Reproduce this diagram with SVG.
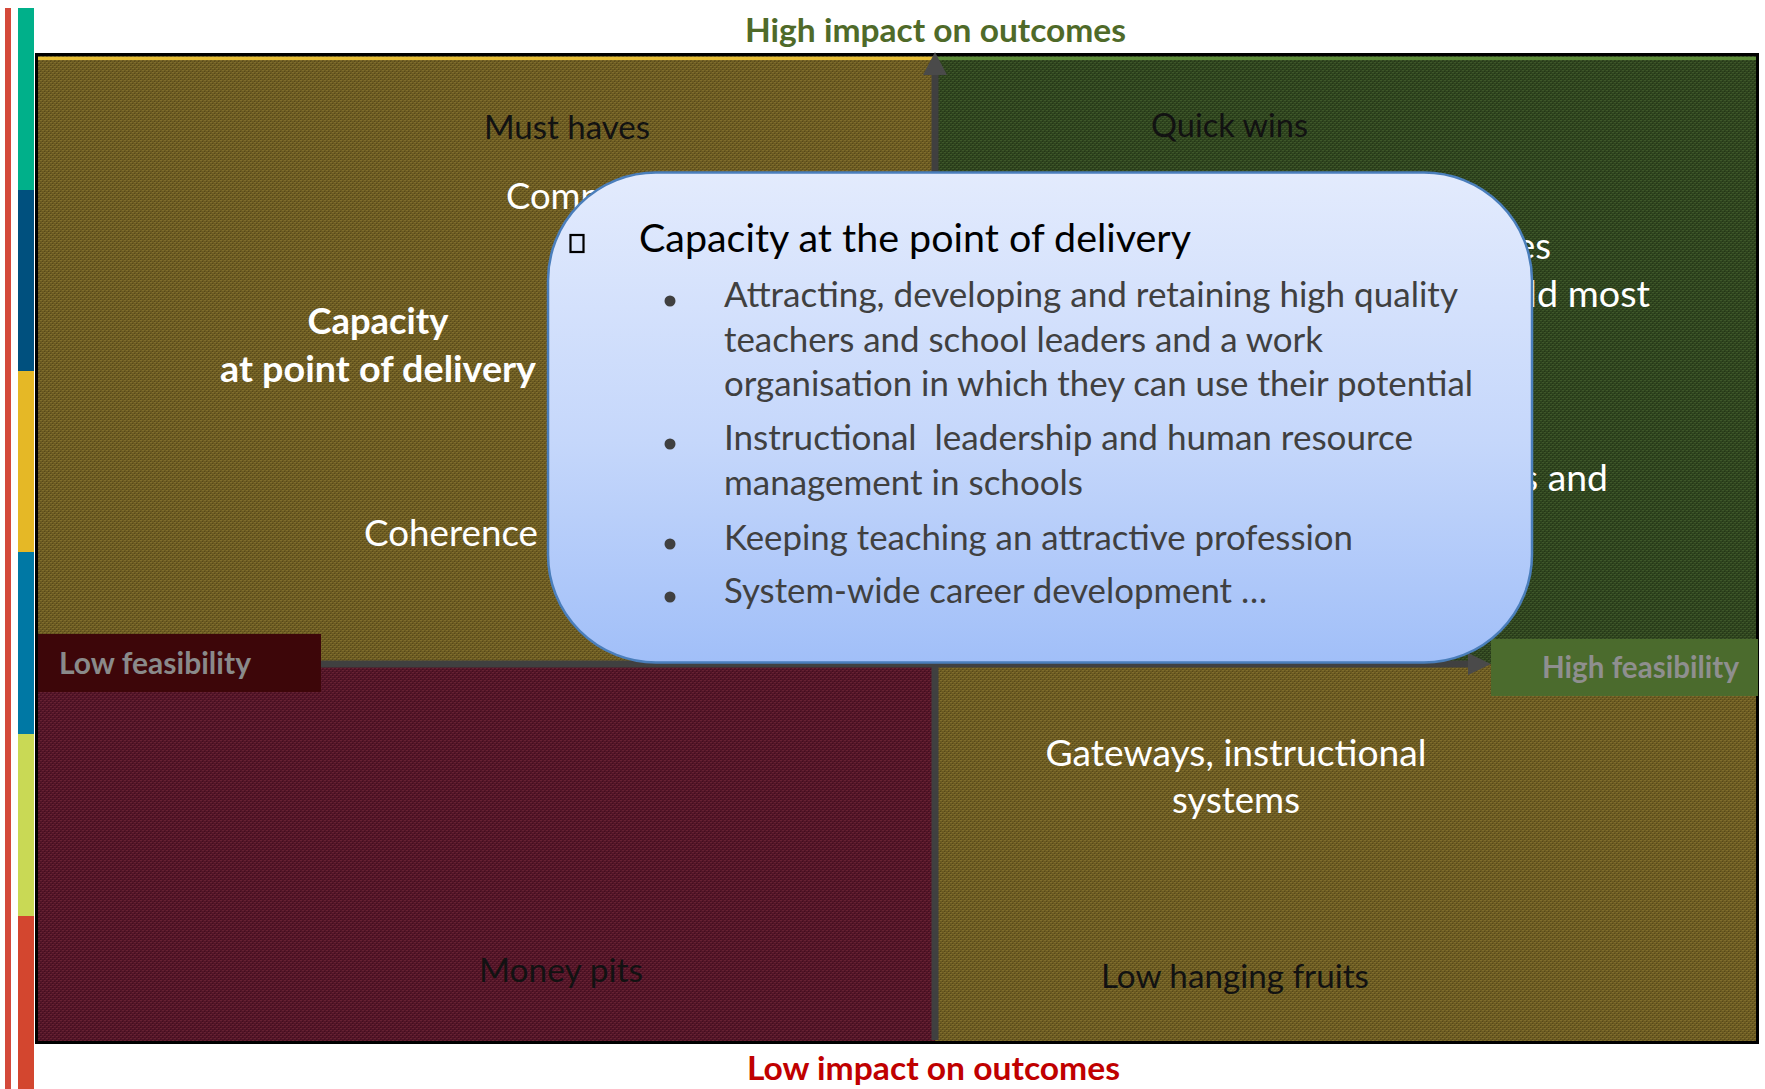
<svg xmlns="http://www.w3.org/2000/svg" width="1765" height="1089" viewBox="0 0 1765 1089">
<style>
text{font-family:Lato,'Open Sans','Liberation Sans',sans-serif}
.lbl{fill:#ffffff;font-size:37px}
.lblb{fill:#ffffff;font-size:37px;font-weight:700}
.dark{fill:#121212;font-size:33px}
.feas{font-weight:700;font-size:29.5px}
.axis{stroke:#404040;stroke-width:7;fill:none}
.head{fill:#4a4a4a}
.bt{fill:#404040;font-size:34.5px;white-space:pre}
.title{font-weight:700;font-size:33px}
.dot{fill:#404040}
</style>
<defs>
<pattern id="pOlive" width="4" height="4" patternUnits="userSpaceOnUse">
<rect width="4" height="4" fill="#6b5a21"/>
<rect x="0" y="0" width="2" height="1" fill="#7f6d2d"/>
<rect x="2" y="2" width="2" height="1" fill="#7f6d2d"/>
<rect x="0" y="3" width="1" height="1" fill="#56481a"/>
<rect x="2" y="1" width="1" height="1" fill="#56481a"/>
</pattern>
<pattern id="pGreen" width="4" height="4" patternUnits="userSpaceOnUse">
<rect width="4" height="4" fill="#2e431e"/>
<rect x="0" y="0" width="2" height="1" fill="#3e5729"/>
<rect x="2" y="2" width="2" height="1" fill="#3e5729"/>
<rect x="0" y="3" width="1" height="1" fill="#243616"/>
<rect x="2" y="1" width="1" height="1" fill="#243616"/>
</pattern>
<pattern id="pMaroon" width="4" height="4" patternUnits="userSpaceOnUse">
<rect width="4" height="4" fill="#521427"/>
<rect x="0" y="0" width="2" height="1" fill="#662232"/>
<rect x="2" y="2" width="2" height="1" fill="#662232"/>
<rect x="0" y="3" width="1" height="1" fill="#420e1e"/>
<rect x="2" y="1" width="1" height="1" fill="#420e1e"/>
</pattern>
<linearGradient id="gPop" x1="0" y1="0" x2="0" y2="1">
<stop offset="0" stop-color="#e3ebfd"/>
<stop offset="0.55" stop-color="#c5d7fb"/>
<stop offset="1" stop-color="#a1bff8"/>
</linearGradient>
</defs>

<g id="side-bars">
<rect x="5" y="8" width="6" height="1081" fill="#d4493a"/>
<rect x="18" y="8" width="16" height="182" fill="#00b08a"/>
<rect x="18" y="190" width="16" height="181" fill="#00507e"/>
<rect x="18" y="371" width="16" height="181" fill="#e5b826"/>
<rect x="18" y="552" width="16" height="182" fill="#0078a4"/>
<rect x="18" y="734" width="16" height="182" fill="#c9d955"/>
<rect x="18" y="916" width="16" height="173" fill="#d3462f"/>
</g>

<g id="quadrant-must-haves">
<rect x="38" y="56" width="897" height="608" fill="url(#pOlive)"/>
<rect x="38" y="57" width="897" height="3" fill="#e6bd35"/>
</g>
<g id="quadrant-quick-wins">
<rect x="935" y="56" width="823" height="608" fill="url(#pGreen)"/>
<rect x="935" y="57" width="823" height="3" fill="#5e8c3a"/>
</g>
<g id="quadrant-money-pits">
<rect x="38" y="664" width="897" height="378" fill="url(#pMaroon)"/>
</g>
<g id="quadrant-low-hanging">
<rect x="935" y="664" width="823" height="378" fill="url(#pOlive)"/>
</g>

<g id="frame">
<rect x="36.5" y="54.5" width="1721" height="988" fill="none" stroke="#000000" stroke-width="3"/>
</g>

<g id="connectors">
<line class="axis" x1="935" y1="1040" x2="935" y2="74"/>
<polygon class="head" points="923,75 947,75 935,52"/>
<line class="axis" x1="38" y1="664" x2="1469" y2="664"/>
<polygon class="head" points="1468,653 1468,675 1491,664"/>
</g>

<g id="title-high">
<text class="title" x="745" y="42" fill="#4f6a29" textLength="381" lengthAdjust="spacingAndGlyphs">High impact on outcomes</text>
</g>
<g id="title-low">
<text class="title" x="747" y="1080" fill="#c00000" textLength="373" lengthAdjust="spacingAndGlyphs">Low impact on outcomes</text>
</g>

<g id="label-must-haves">
<text class="dark" x="484" y="139" textLength="166" lengthAdjust="spacingAndGlyphs">Must haves</text>
</g>
<g id="label-comp">
<text class="lbl" x="506" y="209" textLength="95" lengthAdjust="spacingAndGlyphs">Comp</text>
</g>
<g id="label-capacity">
<text class="lblb" x="378" y="334" text-anchor="middle" textLength="141" lengthAdjust="spacingAndGlyphs">Capacity</text>
<text class="lblb" x="378" y="382" text-anchor="middle" textLength="316" lengthAdjust="spacingAndGlyphs">at point of delivery</text>
</g>
<g id="label-coherence">
<text class="lbl" x="364" y="546" textLength="174" lengthAdjust="spacingAndGlyphs">Coherence</text>
</g>
<g id="label-quick-wins">
<text class="dark" x="1151" y="137" textLength="157" lengthAdjust="spacingAndGlyphs">Quick wins</text>
</g>
<g id="label-right-partial">
<text class="lbl" x="1516" y="259" textLength="35" lengthAdjust="spacingAndGlyphs">es</text>
<text class="lbl" x="1528" y="307" textLength="122" lengthAdjust="spacingAndGlyphs">ld most</text>
<text class="lbl" x="1522" y="491" textLength="86" lengthAdjust="spacingAndGlyphs">s and</text>
</g>
<g id="label-gateways">
<text class="lbl" x="1236" y="766" text-anchor="middle" textLength="381" lengthAdjust="spacingAndGlyphs">Gateways, instructional</text>
<text class="lbl" x="1236" y="813" text-anchor="middle" textLength="128" lengthAdjust="spacingAndGlyphs">systems</text>
</g>
<g id="label-low-hanging">
<text class="dark" x="1101" y="988" textLength="268" lengthAdjust="spacingAndGlyphs">Low hanging fruits</text>
</g>
<g id="label-money-pits">
<text class="dark" x="479" y="982" fill="#1c0a10" textLength="164" lengthAdjust="spacingAndGlyphs">Money pits</text>
</g>

<g id="low-feasibility">
<rect x="38" y="634" width="283" height="58" fill="#3d0609"/>
<text class="feas" x="59" y="674" fill="#8a8a8a" textLength="192" lengthAdjust="spacingAndGlyphs">Low feasibility</text>
</g>
<g id="high-feasibility">
<rect x="1491" y="639" width="267" height="57" fill="#4b6b2d"/>
<text class="feas" x="1542" y="678" fill="#8f8f8f" textLength="197" lengthAdjust="spacingAndGlyphs">High feasibility</text>
</g>

<g id="popup">
<rect x="548" y="172.5" width="984" height="490" rx="108" ry="108" fill="url(#gPop)" stroke="#4a7ebb" stroke-width="2.5"/>
<rect x="570.5" y="235" width="13" height="17" fill="none" stroke="#000000" stroke-width="2.2"/>
<text x="639" y="252" fill="#000000" font-size="39" textLength="552" lengthAdjust="spacingAndGlyphs">Capacity at the point of delivery</text>
<circle class="dot" cx="670" cy="301" r="5.5"/>
<text class="bt" x="724" y="307" textLength="734" lengthAdjust="spacingAndGlyphs">Attracting, developing and retaining high quality</text>
<text class="bt" x="724" y="352" textLength="599" lengthAdjust="spacingAndGlyphs">teachers and school leaders and a work</text>
<text class="bt" x="724" y="396" textLength="749" lengthAdjust="spacingAndGlyphs">organisation in which they can use their potential</text>
<circle class="dot" cx="670" cy="444" r="5.5"/>
<text class="bt" x="724" y="450" textLength="689" lengthAdjust="spacingAndGlyphs">Instructional  leadership and human resource</text>
<text class="bt" x="724" y="495" textLength="359" lengthAdjust="spacingAndGlyphs">management in schools</text>
<circle class="dot" cx="670" cy="544" r="5.5"/>
<text class="bt" x="724" y="550" textLength="629" lengthAdjust="spacingAndGlyphs">Keeping teaching an attractive profession</text>
<circle class="dot" cx="670" cy="597" r="5.5"/>
<text class="bt" x="724" y="603" textLength="543" lengthAdjust="spacingAndGlyphs">System-wide career development …</text>
</g>
</svg>
